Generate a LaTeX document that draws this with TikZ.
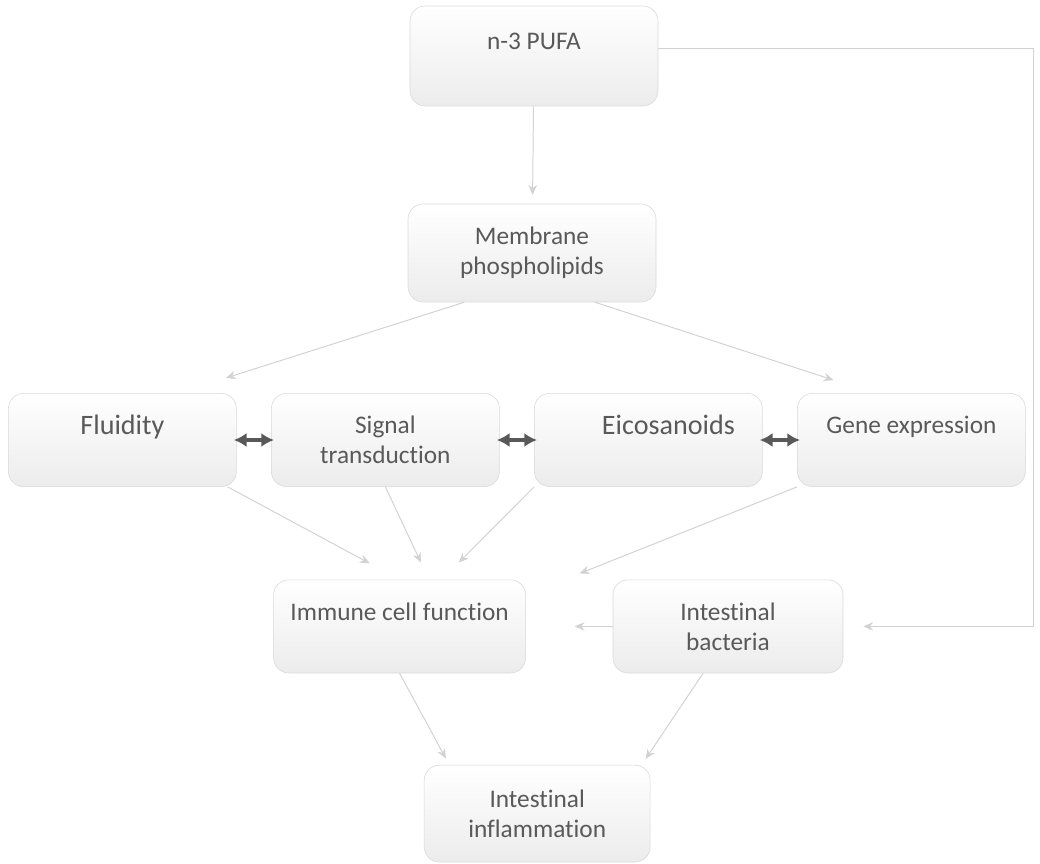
\documentclass[tikz,border=0pt]{standalone}
\usepackage{fontspec}
\setmainfont{Carlito}[Ligatures=NoCommon]
\usepackage{tikz}
\usetikzlibrary{arrows.meta}
\usetikzlibrary{positioning}

\definecolor{boxtext}{HTML}{595959}
\definecolor{linkgray}{HTML}{D2D2D2}

\begin{document}
\begin{tikzpicture}[>={Stealth[length=7pt,width=6pt]},node distance=6.575cm,
  box/.style={rectangle,rounded corners=0.38cm,draw=gray!30,top color=white,bottom color=gray!15,
    text=boxtext,align=center,minimum width=5.7cm,minimum height=2.33cm,font=\fontsize{18}{21.3}\selectfont},
  big/.style={font=\fontsize{20}{21.3}\selectfont},
  link/.style={->,draw=linkgray,line width=0.7pt},
  swap/.style={{Latex[length=9pt,width=10pt]}-{Latex[length=9pt,width=10pt]},draw=gray!70!black,
    line width=2.4pt,shorten <=-2pt,shorten >=-2pt}]

  \useasboundingbox (0,0) rectangle (26,-21.6);

  \node[box,minimum width=6.2cm,minimum height=2.5cm] (pufa) at (13.35,-1.4) {n-3 PUFA\\~};
  \node[box,minimum width=6.2cm,minimum height=2.45cm] (memb) at (13.3,-6.325) {Membrane\\phospholipids};

  \node[box,big] (fluid) at (3.06,-11) {Fluidity\\~};
  \node[box] (signal) [right of=fluid] {Signal\\transduction};
  \node[box,big] (eico) [right of=signal] {\kern1cm Eicosanoids\\~};
  \node[box] (gene) [right of=eico] {Gene expression\\~};

  \node[box,minimum width=6.3cm] (immune) at (9.99,-15.66) {Immune cell function\\~};
  \node[box,minimum width=5.75cm] (bact) at (18.2,-15.66) {Intestinal\\bacteria};
  \node[box,minimum width=5.65cm,minimum height=2.42cm] (inflam) at (13.43,-20.34) {Intestinal\\inflammation};

  \coordinate (rim) at (25.83,-1.2);

  % links
  \draw[link,shorten >=0.22cm] (pufa) -- (memb);
  \draw[link,shorten >=1.25cm] (memb.216) -- (fluid.40);
  \draw[link,shorten >=1.05cm] (memb.322) -- (gene.129);
  \draw[link,shorten >=0.85cm] (fluid.336) -- (immune.north);
  \draw[link,shorten >=0.47cm] (signal.south) -- (immune.58);
  \draw[link,shorten >=0.6cm] (eico.south west) -- (immune.48);
  \draw[link,shorten >=1.45cm] (gene.south west) -- (immune.14);
  \draw[link,shorten >=1.22cm] (bact.west) -- (immune.east);
  \draw[link,shorten >=0.18cm] (immune.south) -- (inflam.151);
  \draw[link,shorten >=0.18cm] (bact.242) -- (inflam.25);
  \draw[link,shorten >=0.5cm] (pufa.east |- rim) -- (rim) -- (rim |- bact.east) -- (bact.east);

  % two-way
  \draw[swap] (fluid) -- (signal);
  \draw[swap] (signal) -- (eico);
  \draw[swap] (eico) -- (gene);

\end{tikzpicture}
\end{document}
